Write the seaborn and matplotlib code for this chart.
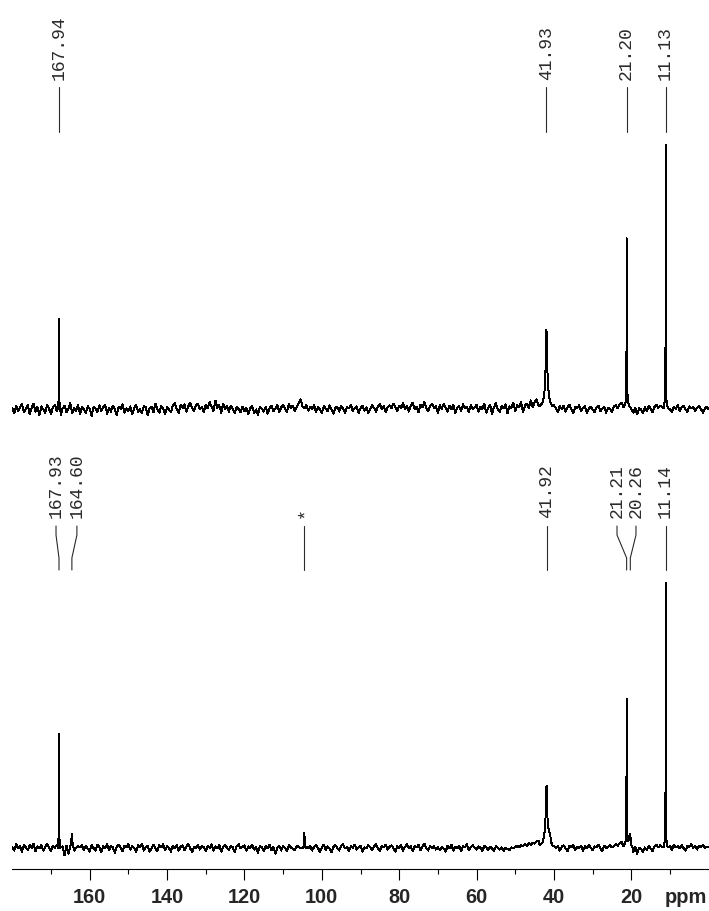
import numpy as np
import pandas as pd
import seaborn as sns
import matplotlib
matplotlib.use("Agg")
import matplotlib.pyplot as plt
from matplotlib import transforms

# ---------------------------------------------------------------- data
# chemical-shift grid of the baseline trace (ppm, 180 -> 0, 0.5 ppm step)
GRID_PPM = np.arange(180.0, -0.25, -0.5)

# baseline noise of the upper spectrum (relative intensity, tallest peak = 100)
TOP_BASE = [
    0.6, -1.2, 1.6, -0.4, 1.0, 2.2, -0.8, 0.4, 1.8, -1.6, 0.8, 2.4, -0.6, 1.2, -2.0, 1.4, 0.2, -1.0, 1.8, 0.4,
    -1.4, 1.0, 2.0, -0.4, 1.2, -1.8, 0.6, 1.6, -0.8, 0.4, 2.6, -1.2, 0.8, -0.4, 1.8, -1.6, 1.0, 0.2, -1.0, 1.4,
    0.4, -2.2, 1.2, 0.6, -0.8, 1.8, -0.4, 1.0, 2.0, -1.4, 0.8, -0.6, 1.6, 0.2, -1.8, 1.2, 0.4, 2.2, -1.0, 0.6,
    -0.4, 1.4, -1.6, 0.8, 1.8, -0.6, 0.4, -1.2, 1.6, 1.0, -2.0, 0.6, 1.2, -0.8, 2.4, 0.2, -1.0, 1.4, 0.4, -1.4,
    1.0, 0.2, -0.8, 1.6, 2.6, 0.4, -1.2, 1.8, 0.8, 2.2, -0.6, 1.4, 2.8, 0.6, -0.4, 1.8, 2.4, 0.2, 1.2, -0.8,
    2.0, 0.6, 3.0, 1.2, -0.4, 3.6, 0.8, 1.8, -1.0, 2.4, 0.4, 1.4, -0.6, 1.6, 0.2, -1.2, 1.0, 0.4, -0.8, 1.2,
    -0.4, 0.8, -1.6, 0.6, 1.4, -1.0, 0.2, -1.8, 1.0, 0.4, -0.6, 1.2, -1.4, 0.8, 1.6, -0.4, 0.6, 2.0, -0.8, 1.0,
    1.8, 0.4, -0.6, 2.2, 0.8, 1.6, -0.4, 1.2, 2.4, 4.0, 1.4, 0.6, 2.0, -0.2, 1.2, 0.4, 1.8, -0.8, 1.0, 0.2,
    -1.0, 1.4, 0.6, -0.4, 1.8, 0.2, -1.4, 0.8, 1.2, -0.6, 1.6, 0.4, -1.0, 1.2, 0.6, 2.0, -0.4, 0.8, 1.4, -1.2,
    0.6, 1.6, -0.2, 1.0, -1.2, 0.4, 1.8, 0.8, -0.6, 1.2, 2.2, 0.4, 1.4, -0.8, 1.0, 1.8, 0.6, 2.4, 1.2, -0.4,
    1.6, 0.8, 2.6, 0.2, 1.4, -0.6, 1.8, 2.8, 0.4, 1.2, -0.8, 2.0, 1.0, 3.2, 0.6, -0.4, 1.6, 2.2, 0.8, 1.4,
    -1.0, 1.8, 0.4, 2.4, 1.0, -0.6, 1.6, 0.2, 2.0, -1.2, 0.8, 1.4, -0.4, 2.2, 0.6, 1.2, -0.8, 1.8, 0.4, 1.0,
    2.0, -0.6, 1.2, 0.4, 2.4, -1.0, 0.8, 1.8, -1.4, 1.0, 2.6, 0.2, -0.8, 1.6, 0.6, 2.2, -1.2, 1.4, 0.8, 2.8,
    -0.4, 1.8, 1.0, 3.0, -0.6, 1.6, 2.4, 0.8, 3.6, 1.2, 2.8, 4.0, 1.8, 3.2, 1.0, 1.0, 1.0, 1.0, 1.0, 1.0,
    1.8, 0.6, -0.8, 1.4, 0.4, 1.6, -0.6, 1.0, 2.0, 0.2, -1.2, 1.2, 0.6, 1.8, -0.4, 0.8, 1.4, -1.0, 0.4, 1.2,
    0.2, -0.8, 1.0, 1.6, -0.4, 0.6, 1.2, -1.0, 0.8, 0.4, -0.6, 1.4, 1.8, 0.6, 2.2, 2.8, 1.0, 1.0, 1.0, 1.0,
    0.4, -1.0, 0.8, -1.6, 0.6, 0.2, -1.2, 1.0, -0.4, 1.4, 0.6, -0.8, 1.2, 2.0, 0.8, 1.6, 1.0, 1.8, 1.2, 0.8,
    0.2, -0.6, 1.2, 0.4, 1.8, -0.4, 1.0, 1.6, 0.2, -0.8, 1.4, 0.6, 1.2, -0.4, 0.8, 1.6, 0.4, -1.0, 0.6, 1.2,
    0.2,
]

# baseline noise of the lower spectrum
BOT_BASE = [
    0.8, -0.6, 1.8, 0.2, 1.2, -1.0, 1.6, 0.6, -0.4, 1.4, 0.4, 2.0, -0.8, 1.0, 0.2, 1.6, -0.6, 0.8, 1.8, 0.4,
    -0.8, 1.2, 0.4, 1.6, -1.2, 0.6, 1.0, -2.4, 1.2, -1.8, 0.8, 1.6, -0.6, 0.4, 1.0, 0.6, 1.4, -0.4, 1.2, 0.2,
    -1.0, 1.4, 0.4, -0.6, 1.6, 0.8, -1.2, 1.0, 0.2, 1.8, -0.4, 1.2, 0.6, -1.4, 0.8, 1.6, 0.4, -0.8, 1.2, 0.6,
    1.8, -0.2, 1.0, 0.4, -1.2, 1.4, 0.6, 2.0, -0.6, 0.8, 1.2, -1.0, 0.4, 1.6, 0.2, -0.8, 1.4, 0.6, 1.8, -0.4,
    1.0, 0.4, -1.0, 1.2, 0.2, 1.6, -0.6, 0.8, 1.4, -0.4, 1.0, 1.8, 0.2, -1.2, 0.8, 0.4, 1.4, -0.2, 1.0, 0.6,
    -0.8, 1.2, 0.4, 1.8, -0.6, 1.0, 0.2, 1.4, -1.0, 0.8, 1.6, 0.4, -0.4, 1.2, 0.6, -1.2, 1.0, 1.8, 0.2, 0.8,
    1.4, -0.6, 1.0, 0.4, 1.6, -0.2, 0.8, -1.4, 1.2, 0.6, -0.8, 1.0, 0.2, 1.6, -0.4, 0.8, -1.8, 0.4, 1.2, -0.6,
    1.0, 0.4, -0.8, 1.4, 0.6, 0.2, -0.4, 1.2, 0.8, 0.4, 0.6, 1.0, 0.8, 0.2, 1.2, -0.6, 0.8, 1.4, 0.4, -1.0,
    0.6, 1.6, -0.4, 1.0, 0.2, -1.2, 0.8, 1.4, 0.4, -0.6, 1.2, 1.8, 0.2, 0.8, -0.8, 1.0, 0.4, 1.6, -0.2, 0.6,
    1.2, -1.0, 0.6, 0.2, 1.4, 0.8, -0.4, 1.0, 1.8, 0.4, -0.8, 1.2, 0.6, 1.6, -0.2, 0.8, 1.4, 0.4, -1.0, 1.0,
    0.4, 1.4, -0.6, 0.8, 1.8, 0.2, 1.0, -0.8, 1.2, 0.6, 1.6, -0.4, 0.8, 2.0, 0.4, -0.6, 1.2, 0.2, 1.0, -0.2,
    0.6, -0.4, 0.8, 0.2, -1.0, 1.2, 0.4, 1.6, -0.6, 0.8, 0.2, 1.2, -0.8, 1.0, 0.6, 1.8, -0.4, 0.8, 1.4, 0.4,
    -0.2, 1.0, 0.4, -0.8, 1.2, 0.6, -0.4, 0.8, 0.2, -0.6, 1.0, 0.4, -0.2, 0.6, -0.8, 0.4, 0.0, -0.4, 0.6, 0.2,
    0.8, 1.2, 0.6, 1.4, 1.0, 1.8, 1.2, 2.2, 1.6, 2.4, 2.0, 2.8, 3.2, 2.4, 1.0, 1.0, 1.0, 1.0, 1.0, 1.0,
    1.2, 0.4, 1.0, -0.6, 0.8, 1.4, 0.2, -0.8, 1.2, 0.6, 1.6, -0.4, 0.8, 0.4, 1.2, -0.6, 1.0, 0.2, 1.4, 0.6,
    -0.4, 1.0, 0.6, 1.6, 0.2, -0.8, 1.2, 0.4, 0.8, 1.4, 0.6, 1.0, 1.8, 1.2, 2.2, 2.6, 1.0, 1.0, 1.0, 1.0,
    0.6, -1.2, 0.8, -1.8, 0.4, 0.0, -1.0, 0.6, -0.4, 1.2, 0.2, -0.8, 1.0, 1.6, 0.6, 1.4, 0.8, 1.8, 1.0, 0.6,
    1.2, -0.4, 1.6, 0.6, 1.0, 0.2, 1.4, 0.4, -0.6, 1.2, 0.8, 1.8, 0.4, 1.0, -0.2, 1.2, 0.6, 1.4, 0.4, 0.8,
    0.6,
]

# resonance profiles (ppm, relative intensity)
TOP_PEAK_PPM = [
    [168.25, 168.05, 167.99, 167.94, 167.89, 167.80, 167.60],
    [43.7, 43.0, 42.5, 42.2, 42.05, 41.93, 41.82, 41.6, 41.3, 40.9, 40.4],
    [21.9, 21.5, 21.32, 21.25, 21.20, 21.15, 21.05, 20.85, 20.5, 20.1],
    [11.6, 11.3, 11.2, 11.15, 11.13, 11.1, 11.0, 10.85, 10.6],
]
TOP_PEAK_INT = [
    [0.6, 3.5, 13.0, 34.5, 12.5, 3.0, 0.8],
    [1.6, 2.5, 5.5, 14.0, 24.0, 30.3, 21.0, 11.0, 5.5, 2.8, 1.4],
    [1.0, 3.0, 10.0, 22.0, 64.8, 21.0, 7.0, 3.2, 1.5, 0.8],
    [0.8, 4.0, 12.0, 31.0, 100.0, 30.0, 6.0, 2.5, 1.0],
]

BOT_PEAK_PPM = [
    [168.25, 168.05, 167.98, 167.93, 167.88, 167.78, 167.60],
    [165.1, 164.8, 164.6, 164.4, 164.1],
    [104.9, 104.6, 104.5, 104.4, 104.1],
    [43.7, 43.0, 42.5, 42.2, 42.05, 41.92, 41.8, 41.6, 41.3, 41.0, 40.7, 40.3],
    [21.9, 21.5, 21.33, 21.26, 21.21, 21.16, 21.05, 20.85, 20.5, 20.35, 20.26, 20.15, 19.9, 19.6],
    [11.6, 11.3, 11.2, 11.16, 11.14, 11.11, 11.0, 10.85, 10.6],
]
BOT_PEAK_INT = [
    [0.5, 4.0, 11.0, 43.4, 10.5, 2.5, 0.4],
    [0.4, 2.0, 5.7, 1.8, 0.3],
    [0.5, 1.5, 6.0, 1.2, 0.4],
    [1.4, 2.3, 5.0, 11.0, 18.0, 23.8, 15.0, 10.0, 6.5, 5.7, 2.5, 1.2],
    [1.0, 3.0, 9.0, 20.0, 56.6, 19.0, 6.0, 3.0, 3.5, 4.5, 5.7, 3.0, 1.0, 0.5],
    [0.8, 3.5, 10.0, 24.5, 100.0, 23.0, 5.0, 2.2, 0.8],
]

# peak-pick annotations
TOP_LABELS = ["167.94", "41.93", "21.20", "11.13"]
TOP_LABEL_PPM = [167.94, 41.93, 21.20, 11.13]

BOT_LABELS = ["167.93", "164.60", "*", "41.92", "21.21", "20.26", "11.14"]
BOT_LABEL_PEAK = [167.93, 164.60, 104.5, 41.92, 21.21, 20.26, 11.14]
BOT_LABEL_TEXT = [168.7, 163.3, 104.5, 41.92, 23.7, 18.8, 11.14]

MAJOR_TICKS = [160, 140, 120, 100, 80, 60, 40, 20]
MINOR_TICKS = [170, 150, 130, 110, 90, 70, 50, 30, 10]


def spectrum_frame(base, peak_ppm, peak_int):
    ppm = np.asarray(GRID_PPM)
    val = np.asarray(base, dtype=float)
    keep = np.ones_like(ppm, dtype=bool)
    for p in peak_ppm:
        keep &= ~((ppm <= max(p)) & (ppm >= min(p)))
    xs = list(ppm[keep])
    ys = list(val[keep])
    for p, v in zip(peak_ppm, peak_int):
        xs += list(p)
        ys += list(v)
    df = pd.DataFrame({"ppm": xs, "intensity": ys})
    return df.sort_values("ppm", ascending=False).reset_index(drop=True)


# ---------------------------------------------------------------- layout
W, H, DPI = 709, 911, 100
sns.set_style("white")
plt.rcParams["font.family"] = ["Liberation Sans", "DejaVu Sans"]

fig = plt.figure(figsize=(W / DPI, H / DPI), dpi=DPI)
fig.patch.set_facecolor("white")

X0, X1 = 12.3, 708.7                # plot area left / right (px)
SPLIT = 440                          # boundary between panels (px from top)
AXIS_Y = 869                         # ppm axis line (px from top)


def fy(px):
    """figure fraction from pixel row counted from the top"""
    return 1 - px / H


def make_axes(top_px, bottom_px, base_px, full_px):
    ax = fig.add_axes([X0 / W, fy(bottom_px), (X1 - X0) / W, (bottom_px - top_px) / H])
    scale = (base_px - full_px) / 100.0
    ax.set_ylim(-(bottom_px - base_px) / scale, (base_px - top_px) / scale)
    ax.set_xlim(180, 0)
    ax.set_facecolor("none")
    return ax


ax_top = make_axes(0, SPLIT, 410, 145)
ax_bot = make_axes(SPLIT, AXIS_Y, 849, 583)

for ax, base, pp, pi in [(ax_top, TOP_BASE, TOP_PEAK_PPM, TOP_PEAK_INT),
                         (ax_bot, BOT_BASE, BOT_PEAK_PPM, BOT_PEAK_INT)]:
    df = spectrum_frame(base, pp, pi)
    sns.lineplot(data=df, x="ppm", y="intensity", ax=ax, color="black",
                 linewidth=0.7, estimator=None, sort=False, legend=False)
    ax.lines[-1].set_antialiased(False)
    ax.set_xlim(180, 0)
    ax.set_xlabel("")
    ax.set_ylabel("")
    ax.set_yticks([])
    for s in ["top", "left", "right", "bottom"]:
        ax.spines[s].set_visible(False)

ax_top.set_xticks([])

# ppm axis
ax_bot.spines["bottom"].set_visible(True)
ax_bot.spines["bottom"].set_color("black")
ax_bot.spines["bottom"].set_linewidth(0.8)
ax_bot.set_xticks(MAJOR_TICKS)
ax_bot.set_xticklabels([str(t) for t in MAJOR_TICKS])
ax_bot.set_xticks(MINOR_TICKS, minor=True)
ax_bot.tick_params(axis="x", which="major", direction="out", length=8, width=0.8,
                   color="black", pad=6, labelsize=14.4, bottom=True)
ax_bot.tick_params(axis="x", which="minor", direction="out", length=3.8, width=0.8,
                   color="black", bottom=True)
for lab in ax_bot.get_xticklabels():
    lab.set_fontweight("bold")
ax_bot.annotate("ppm", xy=(1, 0), xycoords="axes fraction", xytext=(-1, -14),
                textcoords="offset points", ha="right", va="top",
                fontsize=14.4, fontweight="bold")

# peak-pick labels
mono = ["Liberation Mono", "DejaVu Sans Mono"]
lab_col = "#2a2a2a"

tr_top = transforms.blended_transform_factory(ax_top.transData, fig.transFigure)
for txt, p in zip(TOP_LABELS, TOP_LABEL_PPM):
    ax_top.text(p, fy(80), txt, transform=tr_top, rotation=90, ha="center",
                va="bottom", family=mono, fontsize=13, color=lab_col)
    ax_top.plot([p, p], [fy(87), fy(132)], transform=tr_top, color=lab_col,
                lw=0.8, clip_on=False)

tr_bot = transforms.blended_transform_factory(ax_bot.transData, fig.transFigure)
for txt, pk, tx in zip(BOT_LABELS, BOT_LABEL_PEAK, BOT_LABEL_TEXT):
    ax_bot.text(tx, fy(518), txt, transform=tr_bot, rotation=90, ha="center",
                va="bottom", family=mono, fontsize=13, color=lab_col)
    ax_bot.plot([tx, tx, pk, pk], [fy(526), fy(535), fy(558), fy(570)],
                transform=tr_bot, color=lab_col, lw=0.8, clip_on=False)

fig.savefig("out.png", dpi=DPI, facecolor="white")
